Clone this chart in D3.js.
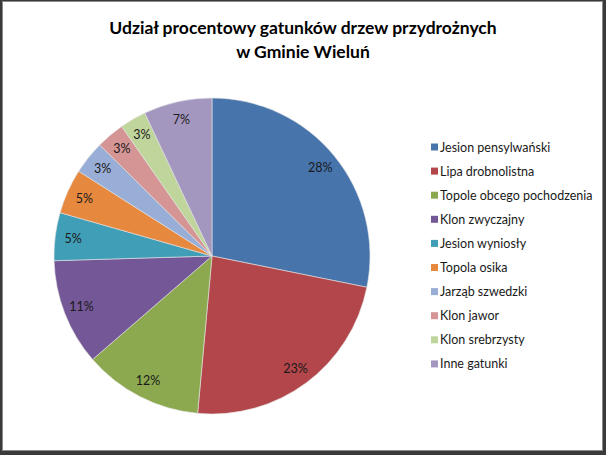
<!DOCTYPE html>
<html>
<head>
<meta charset="utf-8">
<script src="https://cdn.jsdelivr.net/npm/d3@7"></script>
<style>
  html, body { margin: 0; padding: 0; background: #fff; }
  svg { display: block; }
</style>
</head>
<body>
<svg id="chart"></svg>
<script>
// data
const species = [
  "Jesion pensylwański", "Lipa drobnolistna", "Topole obcego pochodzenia",
  "Klon zwyczajny", "Jesion wyniosły", "Topola osika", "Jarząb szwedzki",
  "Klon jawor", "Klon srebrzysty", "Inne gatunki"
]
const shares = [28.2, 23.3, 12.2, 10.9, 4.9, 4.6, 3.4, 2.9, 2.7, 7.0]
const colors = [
  "#4674ab", "#b2464a", "#8ca94f", "#745796", "#409eb6",
  "#e7883f", "#99aed6", "#d49594", "#bfd59b", "#a497bf"
]
const titleLines = ["Udział procentowy gatunków drzew przydrożnych", "w Gminie Wieluń"]

const width = 606, height = 455
const font = "Lato, 'Open Sans', sans-serif"

let svg = d3.select("#chart")
  .attr("width", width)
  .attr("height", height)

// frame with shadow look
svg.append("rect")
  .attr("width", width).attr("height", height)
  .attr("fill", "#3a3a3a")
svg.append("rect")
  .attr("x", 2.5).attr("y", 1.5)
  .attr("width", 600).attr("height", 449)
  .attr("fill", "#fff")
  .attr("stroke", "#8c8c8c")

// title
svg.append("text")
  .attr("x", 303)
  .attr("y", 34)
  .attr("text-anchor", "middle")
  .attr("font-family", font)
  .attr("font-weight", "bold")
  .attr("font-size", "17.5px")
  .attr("fill", "#000")
  .selectAll("tspan")
  .data(titleLines)
  .join("tspan")
  .attr("x", 303)
  .attr("dy", (d, i) => i === 0 ? 0 : 24)
  .text(d => d)

// pie
const cx = 212, cy = 256, radius = 158

const color = d3.scaleOrdinal().domain(species).range(colors)

const pie = d3.pie().sort(null).value(d => d.value)
const arcs = pie(species.map((s, i) => ({ name: s, value: shares[i] })))

const arc = d3.arc().innerRadius(0).outerRadius(radius)
const labelArc = d3.arc().innerRadius(140).outerRadius(140)
const pct = d3.format(".0%")

let g = svg.append("g").attr("transform", `translate(${cx},${cy})`)

g.selectAll("path")
  .data(arcs)
  .join("path")
  .attr("d", arc)
  .attr("fill", d => color(d.data.name))
  .attr("stroke", "#e4e4e4")
  .attr("stroke-width", 0.6)

g.selectAll("text")
  .data(arcs)
  .join("text")
  .attr("transform", d => `translate(${labelArc.centroid(d)})`)
  .attr("text-anchor", "middle")
  .attr("dy", "0.35em")
  .attr("font-family", font)
  .attr("font-size", "12.5px")
  .attr("fill", "#1a1a1a")
  .text(d => pct(d.data.value / 100))

// legend
const legendX = 431, legendY = 147, step = 24.1

let legend = svg.append("g")
  .selectAll("g")
  .data(species)
  .join("g")
  .attr("transform", (d, i) => `translate(${legendX},${legendY + i * step})`)

legend.append("rect")
  .attr("x", 0).attr("y", -3.5)
  .attr("width", 7).attr("height", 7)
  .attr("fill", d => color(d))

legend.append("text")
  .attr("x", 9)
  .attr("dy", "0.36em")
  .attr("font-family", font)
  .attr("font-size", "12.5px")
  .attr("fill", "#1a1a1a")
  .text(d => d)
</script>
</body>
</html>
